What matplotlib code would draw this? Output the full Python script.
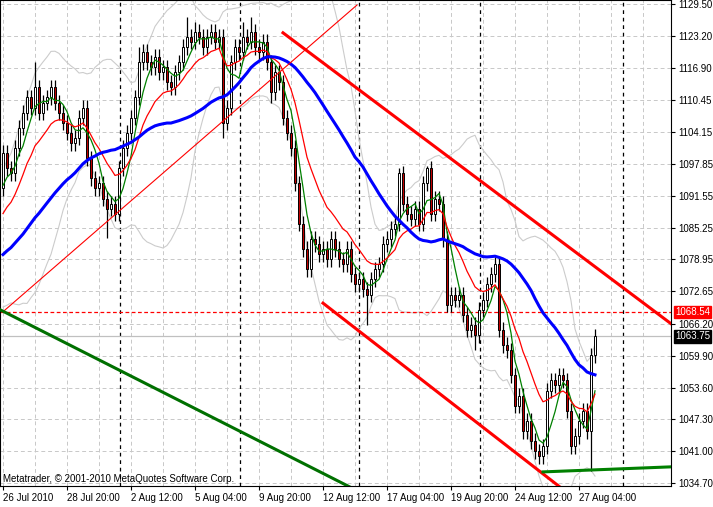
import numpy as np
import pandas as pd
import matplotlib
matplotlib.use("Agg")
import matplotlib.pyplot as plt

plt.rcParams["font.family"] = ["Liberation Sans", "DejaVu Sans"]

# H4 closes, 26 Jul - 27 Aug 2010
closes = [
    1100, 1097, 1096, 1101, 1105, 1108, 1111, 1109, 1113, 1108,
    1110, 1111, 1113, 1110, 1108, 1106, 1104, 1102, 1103, 1107,
    1109, 1099, 1095, 1093, 1094, 1091, 1089, 1090, 1088, 1097,
    1101, 1104, 1107, 1111, 1118, 1120, 1118, 1117, 1119, 1116,
    1117, 1114, 1113, 1116, 1118, 1121, 1123, 1122, 1124, 1123,
    1121, 1123, 1124, 1122, 1123, 1106, 1109, 1118, 1121, 1120,
    1123, 1122, 1124, 1121, 1120, 1122, 1118, 1112, 1116, 1114,
    1107, 1104, 1101, 1094, 1086, 1081, 1077, 1083, 1082, 1080,
    1081, 1079, 1083, 1081, 1079, 1078, 1081, 1076, 1074, 1075,
    1073, 1072, 1075, 1077, 1078, 1082, 1083, 1085, 1086, 1096,
    1090, 1088, 1087, 1089, 1086, 1094, 1097, 1088, 1091, 1090,
    1083, 1070, 1072, 1071, 1072, 1068, 1065, 1066, 1064, 1069,
    1071, 1074, 1076, 1078, 1065, 1062, 1061, 1056, 1050, 1052,
    1045, 1047, 1043, 1041, 1040, 1042, 1053, 1055, 1054, 1056,
    1055, 1049, 1042, 1044, 1047, 1049, 1045, 1060, 1063.75,
]
# closes before the visible window (for the indicators)
history = [
    1073, 1072, 1074, 1071, 1075, 1077, 1074, 1073, 1076, 1078, 1075,
    1077, 1079, 1076, 1078, 1075, 1077, 1080, 1078, 1076, 1079, 1077,
    1078, 1080, 1079, 1081, 1083, 1082, 1084, 1085, 1089, 1092, 1094, 1093,
]
# notable wicks: bar -> (high, low)
wicks = {
    8: (1118, None), 26: (None, 1083.2), 34: (1121, None), 46: (1127, None),
    48: (1126, None), 55: (None, 1103), 60: (1126, None), 62: (1127, None),
    67: (None, 1110), 91: (None, 1066), 99: (1097, None), 106: (1097.5, None),
    118: (None, 1061), 134: (None, 1038.5), 147: (None, 1037),
}

y_ticks = [1129.50, 1123.20, 1116.90, 1110.45, 1104.15, 1097.85, 1091.55, 1085.25,
           1078.95, 1072.65, 1066.20, 1059.90, 1053.60, 1047.30, 1041.00, 1034.70]
x_labels = ["26 Jul 2010", "28 Jul 20:00", "2 Aug 12:00", "5 Aug 04:00", "9 Aug 20:00",
            "12 Aug 12:00", "17 Aug 04:00", "19 Aug 20:00", "24 Aug 12:00", "27 Aug 04:00"]
week_seps = [29.25, 59.25, 89, 119.25, 155]

# trend lines drawn on the chart: ((bar, price), (bar, price))
channel_top = ((70, 1123.8), (177.5, 1060.0))
channel_bottom = ((80, 1070.3), (139.25, 1033.9))
thin_red = ((0, 1068.6), (88.5, 1129.3))
green_line = ((-0.75, 1069.0), (86.75, 1033.9))
green_bottom = ((135, 1036.9), (167, 1037.9))
level_red = 1068.54
last_price = 1063.75

# ---- indicators
allc = pd.Series(history + closes)
n_hist = len(history)
def vis(s):
    return s.iloc[n_hist:].to_numpy()
ma_fast = vis(allc.rolling(5).mean())
ma_mid = vis(allc.ewm(span=13, adjust=False).mean())
ma_slow = vis(allc.rolling(34).mean())
bb_mid = allc.rolling(20).mean()
bb_std = allc.rolling(20).std(ddof=0)
bb_up = vis(bb_mid + 2 * bb_std)
bb_dn = vis(bb_mid - 2 * bb_std)

closes = np.array(closes, dtype=float)
opens = np.concatenate([[history[-1]], closes[:-1]])
x = np.arange(len(closes))

fig = plt.figure(figsize=(7.13, 5.07), dpi=100)
ax = fig.add_axes([0, 21 / 507, 671 / 713, 486 / 507])
ax.set_xlim(-0.75, 167)
ax.set_ylim(1034.11, 1130.29)

for v in y_ticks:
    ax.axhline(v, color="#c8c8c8", ls=(0, (4, 3)), lw=0.7, zorder=0)
for gx in np.arange(0, 168, 8):
    ax.axvline(gx, color="#c8c8c8", ls=(0, (4, 3)), lw=0.7, zorder=0)
for wx in week_seps:
    ax.axvline(wx, color="black", ls=(0, (3, 3)), lw=0.9, zorder=1)

ax.plot(x, bb_up, color="#cccccc", lw=0.8, zorder=2)
ax.plot(x, bb_dn, color="#cccccc", lw=0.8, zorder=2)

# candles
for i in x:
    o, c = opens[i], closes[i]
    hi, lo = max(o, c) + 1.5, min(o, c) - 1.5
    if i in wicks:
        h, l = wicks[i]
        hi = h if h is not None else hi
        lo = l if l is not None else lo
    ax.vlines(i, lo, hi, color="black", lw=0.9, zorder=3)
    fc = "white" if c >= o else "#c00000"
    ax.bar(i, max(abs(c - o), 0.3), bottom=min(o, c), width=0.6,
           color=fc, edgecolor="black", lw=0.7, zorder=4)

ax.plot(x, ma_fast, color="green", lw=0.9, zorder=5)
ax.plot(x, ma_mid, color="red", lw=0.9, zorder=5)
ax.plot(x, ma_slow, color="blue", lw=2.2, zorder=6)

for (a, b), col, lw in [(channel_top, "red", 2.2), (channel_bottom, "red", 2.2),
                        (thin_red, "red", 0.8), (green_line, "#007000", 2.2),
                        (green_bottom, "#008000", 2.2)]:
    ax.plot([a[0], b[0]], [a[1], b[1]], color=col, lw=lw, zorder=7)

ax.axhline(level_red, color="red", ls=(0, (3, 2)), lw=0.9, zorder=2)
ax.axhline(last_price, color="#c0c0c0", lw=0.9, zorder=2)

ax.yaxis.tick_right()
ax.set_yticks(y_ticks)
ax.set_yticklabels([f"{v:.2f}" for v in y_ticks], fontsize=7)
ax.tick_params(axis="y", length=3, pad=2)
ax.set_xticks(np.arange(0, 160, 16))
ax.set_xticklabels(x_labels, fontsize=7, ha="left")
ax.tick_params(axis="x", length=3, pad=2)
for s in ax.spines.values():
    s.set_color("black")

ax.text(1.006, level_red, f"{level_red:.2f}", transform=ax.get_yaxis_transform(),
        fontsize=7, color="white", va="center", ha="left",
        bbox=dict(boxstyle="square,pad=0.15", fc="red", ec="red"))
ax.text(1.006, last_price, f"{last_price:.2f}", transform=ax.get_yaxis_transform(),
        fontsize=7, color="white", va="center", ha="left",
        bbox=dict(boxstyle="square,pad=0.15", fc="black", ec="black"))
ax.text(0.005, 0.005, "Metatrader, © 2001-2010 MetaQuotes Software Corp.",
        transform=ax.transAxes, fontsize=7, va="bottom", ha="left")

fig.savefig("out.png", dpi=100)
